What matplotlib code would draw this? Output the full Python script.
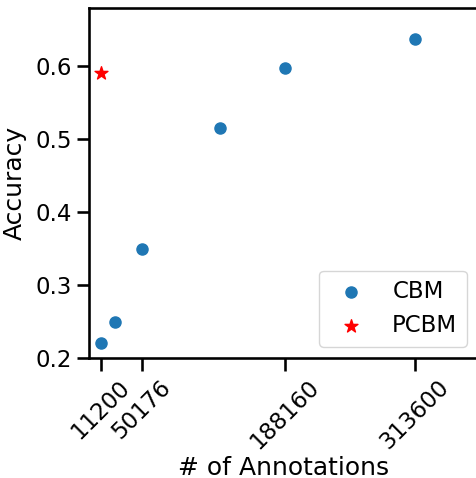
import matplotlib
matplotlib.use("Agg")
import matplotlib.pyplot as plt

plt.rcParams.update({
    'font.family': ['DejaVu Sans'],
    'font.size': 16.5,
    'axes.labelsize': 18,
    'xtick.labelsize': 16.5,
    'ytick.labelsize': 16.5,
    'legend.fontsize': 16.5,
    'axes.linewidth': 1.875,
    'xtick.major.width': 1.875,
    'ytick.major.width': 1.875,
    'xtick.major.size': 9,
    'ytick.major.size': 9,
})

cbm_annotations = [11200, 25088, 50176, 125440, 188160, 313600]
cbm_accuracy = [0.22, 0.25, 0.35, 0.515, 0.597, 0.637]
pcbm_annotations = [11200]
pcbm_accuracy = [0.59]
xtick_values = [11200, 50176, 188160, 313600]

fig = plt.figure(figsize=(4.76, 4.78), dpi=100)
ax = fig.add_axes([89/476, 120/478, (478-89)/476, 350/478])
ax.scatter(cbm_annotations, cbm_accuracy, s=64, color='#1f77b4', label='CBM', zorder=3)
ax.scatter(pcbm_annotations, pcbm_accuracy, s=95, marker='*', color='red', label='PCBM', zorder=3)
ax.set_xlim(-400, 374300)
ax.set_ylim(0.2, 0.6795)
ax.set_xticks(xtick_values)
ax.set_xticklabels([str(v) for v in xtick_values], rotation=45)
ax.set_yticks([0.2, 0.3, 0.4, 0.5, 0.6])
ax.set_xlabel('# of Annotations', labelpad=2)
ax.set_ylabel('Accuracy', labelpad=6)
ax.legend(loc='lower right')
fig.savefig('out.png', dpi=100)
